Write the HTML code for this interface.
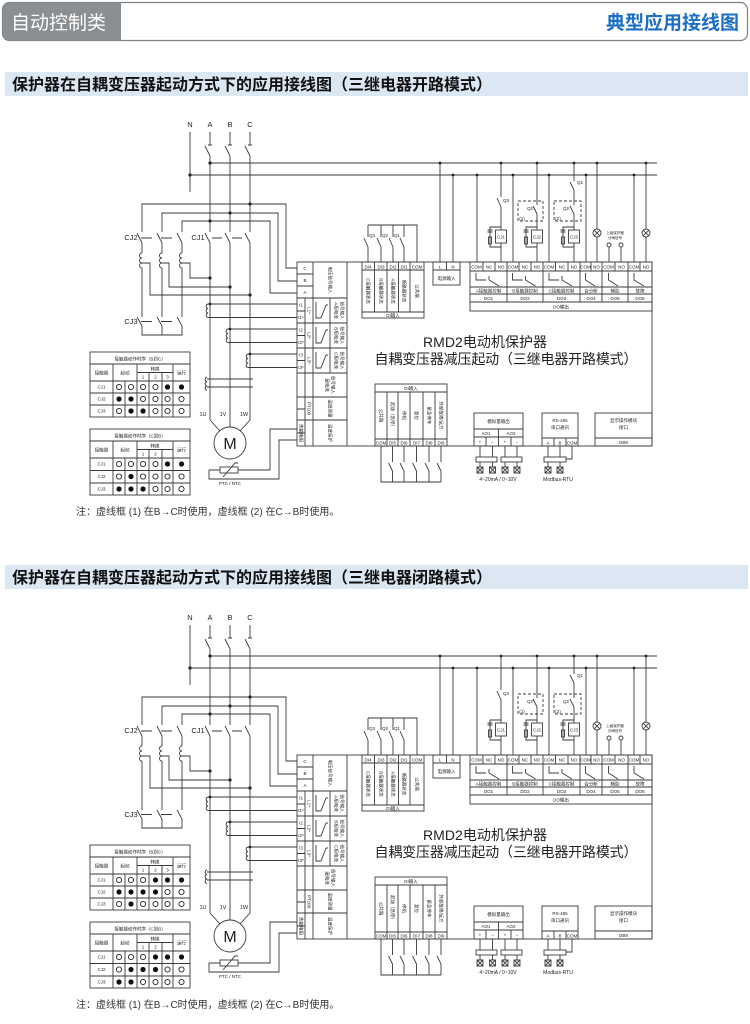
<!DOCTYPE html>
<html><head><meta charset="utf-8"><style>
html,body{margin:0;padding:0;background:#fff;}
svg{display:block;}
.t{font-family:"Liberation Sans","Noto Sans CJK SC",sans-serif;fill:#222;}
.s{font-size:4.5px;}
.m{text-anchor:middle;}
.l{stroke:#3a3a3a;stroke-width:0.9;fill:none;}
.d{stroke:#3a3a3a;stroke-width:0.9;fill:none;stroke-dasharray:3 2;}
.o{fill:#fff;stroke:#222;stroke-width:0.9;}
.f{fill:#111;}
.w{fill:#fff;stroke:#3a3a3a;stroke-width:0.9;}
</style></head><body>
<svg width="750" height="1024" viewBox="0 0 750 1024" xmlns="http://www.w3.org/2000/svg">
<!-- header -->
<rect x="2.5" y="2.5" width="745" height="38" rx="7" fill="#fff" stroke="#7d8083" stroke-width="1.2"/>
<path d="M2.5,9.5a7,7 0 0 1 7,-7H121V40.5H9.5a7,7 0 0 1 -7,-7Z" fill="#8c8f92"/>
<text x="11" y="29" class="t" style="font-size:19px;fill:#fff">自动控制类</text>
<text x="739" y="29" class="t" style="font-size:19px;font-weight:bold;fill:#1b6ec2;text-anchor:end">典型应用接线图</text>

<!-- section 1 title -->
<rect x="5" y="72" width="743" height="24" fill="#dce7f4"/>
<text x="12" y="90" class="t" style="font-size:16px;font-weight:bold;fill:#111">保护器在自耦变压器起动方式下的应用接线图（三继电器开路模式）</text>

<!-- ===== DIAGRAM 1 ===== -->
<g>
<g class="l">
<path d="M190,132V192M210,132V145M210,156V232M210,243V420M230,132V145M230,156V232M230,243V420M250,132V145M250,156V232M250,243V420"/>
<path d="M210,156L205,146M230,156L225,146M250,156L245,146M208,145H212M228,145H232M248,145H252"/>
<path d="M210,163H657M190,175H657"/>
<path d="M297,268H286V204H142V232M297,281H278V213H162V232M297,293H270V221H182V232"/>
<path d="M142,243V253M142,268V317M142,326V335H182V326M162,243V253M162,268V317M162,326V335M182,243V253M182,268V317"/>
<path d="M142,253a2.5,2.5 0 0 0 0,5a2.5,2.5 0 0 0 0,5a2.5,2.5 0 0 0 0,5M162,253a2.5,2.5 0 0 0 0,5a2.5,2.5 0 0 0 0,5a2.5,2.5 0 0 0 0,5M182,253a2.5,2.5 0 0 0 0,5a2.5,2.5 0 0 0 0,5a2.5,2.5 0 0 0 0,5"/>
<path d="M142,243L137,233M162,243L157,233M182,243L177,233M141,238H152M161,238H172"/>
<path d="M210,243L205,233M230,243L225,233M250,243L245,233M212,238H222M232,238H242"/>
<path d="M142,326L137,317M162,326L157,317M182,326L177,317M141,321.5H152M161,321.5H172"/>
<path d="M142,263H150V295H250M162,263H169V287H230M182,263H190V278H210"/>
<path d="M208,304a2.3,2.3 0 0 0 0,4.5a2.3,2.3 0 0 0 0,4.5a2.3,2.3 0 0 0 0,4.5M208,304H297M208,317.5H297"/>
<path d="M228,329a2.3,2.3 0 0 0 0,4.5a2.3,2.3 0 0 0 0,4.5a2.3,2.3 0 0 0 0,4.5M228,329H297M228,342.5H297"/>
<path d="M248,354a2.3,2.3 0 0 0 0,4.5a2.3,2.3 0 0 0 0,4.5a2.3,2.3 0 0 0 0,4.5M248,354H297M248,367.5H297"/>
<path d="M207,377a2.3,2.3 0 0 0 0,4.5a2.3,2.3 0 0 0 0,4.5a2.3,2.3 0 0 0 0,4.5M207,379H253M207,387H253"/>
<path d="M210,420L220,431M230,420V427M250,420L240,431"/>
<circle cx="230" cy="443" r="16"/>
<path d="M209,470H220M238,470H270V429H297M209,470V479H279V440H297"/>
<rect x="220" y="467" width="18" height="6"/>
<path d="M223,477L235,463H238"/>
<!-- main box -->
<rect x="297" y="262" width="355" height="184"/>
<path d="M313,262V446M347,262V446M297,274H313M297,286H313M297,298H347M305,298V446M297,311H305M297,335.5H305M297,360.5H305M297,323H347M297,348H347M297,373H347M330,298V373M297,397H347M297,420H347M297,409H305M297,433H305M313,397V446"/>
<path d="M316,302V318H321M321,318L326,305M326,305h2M316,327V343H321M321,343L326,330M326,330h2M316,352V368H321M321,368L326,355M326,355h2"/>
<!-- DI upper -->
<rect x="362" y="262" width="62" height="56"/>
<path d="M362,270H424M362,312H424M374.5,262V312M387,262V312M398.5,262V312M410,262V312"/>
<path d="M368,225H417V262M368,225V237M368,247V262M381,225V237M381,247V262M393,225V237M393,247V262M404,225V237M404,247V262"/>
<path d="M368,247L364,238M381,247L377,238M393,247L389,238M404,247L400,238"/>
<!-- power -->
<rect x="433" y="262" width="27" height="23"/>
<path d="M433,270H460M446.5,262V270M440,163V262M453,175V262"/>
<!-- DO block -->
<rect x="470" y="262" width="182" height="49"/>
<path d="M470,271H652M470,287H652M470,294H652M470,302H652M507,262V302M543,262V302M580,262V302M602,262V302M628,262V302"/>
<path d="M483,262V271M495,262V271M519,262V271M531,262V271M555.5,262V271M568,262V271M591,262V271M615,262V271M640,262V271"/>
<path d="M476,273V280H486M489,276V280M489,280L499,286M512.5,273V280H522.5M525.5,276V280M525.5,280L535.5,286M549,273V280H559M562,276V280M562,280L572,286M585.5,273V280L595,286M608.5,273V280L618,286M634,273V280L644,286"/>
<!-- DO wires -->
<path d="M477,175V262M501,163V197M501,207V230M501,243V262M501,207L497,198"/>
<rect x="495.5" y="230" width="11" height="13"/>
<path d="M501,227H490V247H501M487.5,230H492.5M487.5,232H492.5"/>
<rect x="488.5" y="237" width="3" height="7"/>
<path d="M513,175V262M537,163V205M537,214V230M537,243V262M537,214L533,206"/>
<rect x="531.5" y="230" width="11" height="13"/>
<path d="M537,227H526V247H537M523.5,230H528.5M523.5,232H528.5"/>
<rect x="524.5" y="237" width="3" height="7"/>
<path d="M549,175V262M574,163V181M574,190V205M574,214V230M574,243V262M574,190L570,182M574,214L570,206"/>
<rect x="568.5" y="230" width="11" height="13"/>
<path d="M574,227H563V247H574M560.5,230H565.5M560.5,232H565.5"/>
<rect x="561.5" y="237" width="3" height="7"/>
<path d="M586,175V262M597,163V229M597,237V262M609,247V262M621,247V262M634,175V262M646,163V229M646,237V262"/>
<circle cx="597" cy="233" r="4"/><path d="M594.2,230.2L599.8,235.8M599.8,230.2L594.2,235.8"/>
<circle cx="646" cy="233" r="4"/><path d="M643.2,230.2L648.8,235.8M648.8,230.2L643.2,235.8"/>
<circle cx="609" cy="245" r="2"/><circle cx="621" cy="245" r="2"/>
<!-- DI lower -->
<rect x="375" y="384" width="72" height="62"/>
<path d="M375,392H447M375,439H447M387,392V446M398,392V446M410,392V446M423,392V446M435,392V446"/>
<path d="M381,446V482H441M392.5,446V462M392.5,471V482M404,446V462M404,471V482M416.5,446V462M416.5,471V482M429,446V462M429,471V482M441,446V462M441,471V482"/>
<path d="M392.5,471L388.5,463M404,471L400,463M416.5,471L412.5,463M429,471L425,463M441,471L437,463"/>
<!-- analog out -->
<rect x="474" y="413" width="49" height="33"/>
<path d="M474,429H523M474,437H523M498.5,429V446M486,437V446M511,437V446"/>
<path d="M480,446V467M492.5,446V467M505,446V467M517,446V467"/>
<rect x="476" y="457" width="21" height="5" class="w"/><rect x="501" y="457" width="21" height="5" class="w"/>
<path d="M477,467h6v6h-6zM477,467l6,6M483,467l-6,6M489.5,467h6v6h-6zM489.5,467l6,6M495.5,467l-6,6M502,467h6v6h-6zM502,467l6,6M508,467l-6,6M514,467h6v6h-6zM514,467l6,6M520,467l-6,6"/>
<!-- RS485 -->
<rect x="542" y="413" width="36" height="33"/>
<path d="M542,438H578M554,438V446M566,438V446M548,446V467M560,446V467M572,446V459H566"/>
<rect x="544" y="457" width="22" height="5" class="w"/>
<path d="M545,467h6v6h-6zM545,467l6,6M551,467l-6,6M557,467h6v6h-6zM557,467l6,6M563,467l-6,6"/>
<!-- display -->
<rect x="595" y="413" width="57" height="33"/>
<path d="M595,438H652"/>
</g>
<rect x="518" y="201" width="25" height="20" class="d"/>
<rect x="554" y="201" width="27" height="20" class="d"/>
<g fill="#222">
<circle cx="190" cy="175" r="1.6"/><circle cx="210" cy="163" r="1.6"/>
<circle cx="250" cy="204" r="1.6"/><circle cx="230" cy="213" r="1.6"/><circle cx="210" cy="221" r="1.6"/>
<circle cx="210" cy="278" r="1.6"/><circle cx="230" cy="287" r="1.6"/><circle cx="250" cy="295" r="1.6"/>
<circle cx="210" cy="304" r="1.4"/><circle cx="230" cy="329" r="1.4"/><circle cx="250" cy="354" r="1.4"/>
<circle cx="440" cy="163" r="1.4"/><circle cx="501" cy="163" r="1.4"/><circle cx="537" cy="163" r="1.4"/><circle cx="574" cy="163" r="1.4"/><circle cx="597" cy="163" r="1.4"/><circle cx="646" cy="163" r="1.4"/>
<circle cx="453" cy="175" r="1.4"/><circle cx="477" cy="175" r="1.4"/><circle cx="513" cy="175" r="1.4"/><circle cx="549" cy="175" r="1.4"/><circle cx="586" cy="175" r="1.4"/><circle cx="634" cy="175" r="1.4"/>
</g>
<g class="t m" style="font-size:7.5px">
<text x="190" y="127">N</text><text x="210" y="127">A</text><text x="230" y="127">B</text><text x="250" y="127">C</text>
<text x="131" y="240">CJ2</text><text x="198" y="240">CJ1</text><text x="131" y="324">CJ3</text>
</g>
<g class="t m" style="font-size:5.5px">
<text x="203" y="416">1U</text><text x="223" y="416">1V</text><text x="244" y="416">1W</text>
</g>
<text x="230" y="449" class="t m" style="font-size:16px">M</text>
<text x="230" y="485" class="t m" style="font-size:4.5px">PTC / NTC</text>
<g class="t s m">
<text x="305" y="270">C</text><text x="305" y="282">B</text><text x="305" y="294">A</text>
<text transform="translate(330,280) rotate(90)" dy="1.5">电压信号输入</text>
<text x="301" y="306.5">I1</text><text x="301" y="319">I1*</text><text x="301" y="331.5">I2</text><text x="301" y="344">I2*</text><text x="301" y="356.5">I3</text><text x="301" y="369">I3*</text>
<text transform="translate(309,310.5) rotate(90)" dy="1.5">L1*</text><text transform="translate(309,335.5) rotate(90)" dy="1.5">L2*</text><text transform="translate(309,360.5) rotate(90)" dy="1.5">L3*</text>
<text transform="translate(336,310.5) rotate(90)" dy="1.5">A相电流</text><text transform="translate(342,310.5) rotate(90)" dy="1.5">信号输入</text>
<text transform="translate(336,335.5) rotate(90)" dy="1.5">B相电流</text><text transform="translate(342,335.5) rotate(90)" dy="1.5">信号输入</text>
<text transform="translate(336,360.5) rotate(90)" dy="1.5">C相电流</text><text transform="translate(342,360.5) rotate(90)" dy="1.5">信号输入</text>
<text transform="translate(327,385) rotate(90)" dy="1.5">漏电流</text><text transform="translate(333,385) rotate(90)" dy="1.5">信号输入</text>
<text transform="translate(309,408.5) rotate(90)" dy="1.5">PT100</text><text transform="translate(330,408.5) rotate(90)" dy="1.5">温度测量</text>
<text transform="translate(301,433) rotate(90)" dy="1.5">热敏电阻</text><text transform="translate(330,433) rotate(90)" dy="1.5">温度保护</text>
<text x="368" y="268.5">DI4</text><text x="381" y="268.5">DI3</text><text x="393" y="268.5">DI2</text><text x="404" y="268.5">DI1</text><text x="417" y="268.5">COM</text>
<text transform="translate(368,291) rotate(90)" dy="1.5">C接触器状态</text><text transform="translate(381,291) rotate(90)" dy="1.5">B接触器状态</text><text transform="translate(393,291) rotate(90)" dy="1.5">A接触器状态</text><text transform="translate(404,291) rotate(90)" dy="1.5">断路器状态</text><text transform="translate(417,291) rotate(90)" dy="1.5">公共端</text>
<text x="393" y="317">DI输入</text>
<text x="372" y="237">Q3</text><text x="385" y="237">Q2</text><text x="397" y="237">Q1</text>
<text x="440" y="268.5">L</text><text x="453" y="268.5">N</text><text x="446.5" y="280">电源输入</text>
<text x="476.5" y="268.5">COM</text><text x="489" y="268.5">NC</text><text x="501" y="268.5">NO</text>
<text x="513" y="268.5">COM</text><text x="525" y="268.5">NC</text><text x="537" y="268.5">NO</text>
<text x="549" y="268.5">COM</text><text x="562" y="268.5">NC</text><text x="574" y="268.5">NO</text>
<text x="585.5" y="268.5">COM</text><text x="596.5" y="268.5">NO</text>
<text x="608.5" y="268.5">COM</text><text x="621.5" y="268.5">NO</text>
<text x="634" y="268.5">COM</text><text x="646" y="268.5">NO</text>
<text x="488.5" y="292.5">A接触器控制</text><text x="525" y="292.5">B接触器控制</text><text x="561.5" y="292.5">C接触器控制</text><text x="591" y="292.5">合分断</text><text x="615" y="292.5">辅助</text><text x="640" y="292.5">故障</text>
<text x="488.5" y="300">DO1</text><text x="525" y="300">DO2</text><text x="561.5" y="300">DO3</text><text x="591" y="300">DO4</text><text x="615" y="300">DO5</text><text x="640" y="300">DO6</text>
<text x="561" y="308.5">DO输出</text>
<text x="501" y="238.5">CJ1</text><text x="537" y="238.5">CJ2</text><text x="574" y="238.5">CJ3</text>
<text x="506" y="202">Q3</text><text x="530" y="210">Q2</text><text x="580" y="184">Q1</text><text x="566" y="210">Q2</text>
<text x="522" y="220">(1)</text><text x="558" y="220">(2)</text>
<text x="615" y="234" style="font-size:3.5px">上级保护器</text><text x="615" y="239" style="font-size:3.5px">分闸信号</text>
<text x="411" y="390">DI输入</text>
<text transform="translate(381,415.5) rotate(90)" dy="1.5">公共端</text><text transform="translate(392.5,415.5) rotate(90)" dy="1.5">起动（急停）</text><text transform="translate(404,415.5) rotate(90)" dy="1.5">停机</text><text transform="translate(416.5,415.5) rotate(90)" dy="1.5">复位</text><text transform="translate(429,415.5) rotate(90)" dy="1.5">紧急停车</text><text transform="translate(441,415.5) rotate(90)" dy="1.5">外部故障/远方</text>
<text x="381" y="444.5">COM</text><text x="392.5" y="444.5">DI5</text><text x="404" y="444.5">DI6</text><text x="416.5" y="444.5">DI7</text><text x="429" y="444.5">DI8</text><text x="441" y="444.5">DI9</text>
<text x="498.5" y="423">模拟量输出</text><text x="486" y="435">AO1</text><text x="511" y="435">AO2</text>
<text x="480" y="443.5">+</text><text x="492.5" y="443.5">−</text><text x="505" y="443.5">+</text><text x="517" y="443.5">−</text>
<text x="498" y="481" style="font-size:5px">4~20mA / 0~10V</text>
<text x="560" y="422">RS-485</text><text x="560" y="429">串口通讯</text>
<text x="548" y="444.5">A</text><text x="560" y="444.5">B</text><text x="572" y="444.5">COM</text>
<text x="558" y="481" style="font-size:5px">Modbus-RTU</text>
<text x="623.5" y="422">显示操作模块</text><text x="623.5" y="429">接口</text><text x="623.5" y="444">DB9</text>
</g>
<text x="485" y="347" class="t m" style="font-size:14px" textLength="124">RMD2电动机保护器</text>
<text x="506" y="364" class="t m" style="font-size:14px" textLength="263">自耦变压器减压起动（三继电器开路模式）</text>
<!-- tables -->
<g class="l">
<rect x="90" y="352" width="100" height="65"/>
<path d="M90,364H190M90,381H190M90,393H190M90,405H190M137,372.5H173M113,364V417M137,364V417M173,364V417M125,381V417M149,372.5V417M162,372.5V417"/>
<rect x="90" y="429" width="100" height="66"/>
<path d="M90,441H190M90,458H190M90,470.5H190M90,483H190M137,449.5H173M113,441V495M137,441V495M173,441V495M125,458V495M149,449.5V495M162,449.5V495"/>
</g>
<g class="t s m">
<text x="140" y="360.5">接触器动作时序（B到C）</text>
<text x="101.5" y="374.5">接触器</text><text x="125" y="374.5">起动</text><text x="155" y="370.5">转换</text><text x="181.5" y="374.5">运行</text>
<text x="143" y="378.5">1</text><text x="155.5" y="378.5">2</text><text x="167.5" y="378.5">3</text>
<text x="101.5" y="388.5">CJ1</text><text x="101.5" y="400.5">CJ2</text><text x="101.5" y="412.5">CJ3</text>
<text x="140" y="437.5">接触器动作时序（C到B）</text>
<text x="101.5" y="451.5">接触器</text><text x="125" y="451.5">起动</text><text x="155" y="447.5">转换</text><text x="181.5" y="451.5">运行</text>
<text x="143" y="455.5">1</text><text x="155.5" y="455.5">2</text>
<text x="101.5" y="465.5">CJ1</text><text x="101.5" y="478">CJ2</text><text x="101.5" y="490.5">CJ3</text>
</g>
<g>
<circle cx="119" cy="387" r="2.6" class="o"/><circle cx="131" cy="387" r="2.6" class="o"/><circle cx="143" cy="387" r="2.6" class="o"/><circle cx="155.5" cy="387" r="2.6" class="o"/><circle cx="167.5" cy="387" r="2.6" class="f"/><circle cx="181.5" cy="387" r="2.6" class="f"/>
<circle cx="119" cy="399" r="2.6" class="f"/><circle cx="131" cy="399" r="2.6" class="f"/><circle cx="143" cy="399" r="2.6" class="o"/><circle cx="155.5" cy="399" r="2.6" class="o"/><circle cx="167.5" cy="399" r="2.6" class="o"/><circle cx="181.5" cy="399" r="2.6" class="o"/>
<circle cx="119" cy="411" r="2.6" class="o"/><circle cx="131" cy="411" r="2.6" class="f"/><circle cx="143" cy="411" r="2.6" class="f"/><circle cx="155.5" cy="411" r="2.6" class="o"/><circle cx="167.5" cy="411" r="2.6" class="o"/><circle cx="181.5" cy="411" r="2.6" class="o"/>
<circle cx="119" cy="464" r="2.6" class="o"/><circle cx="131" cy="464" r="2.6" class="o"/><circle cx="143" cy="464" r="2.6" class="o"/><circle cx="155.5" cy="464" r="2.6" class="o"/><circle cx="167.5" cy="464" r="2.6" class="f"/><circle cx="181.5" cy="464" r="2.6" class="f"/>
<circle cx="119" cy="476.5" r="2.6" class="o"/><circle cx="131" cy="476.5" r="2.6" class="f"/><circle cx="143" cy="476.5" r="2.6" class="o"/><circle cx="155.5" cy="476.5" r="2.6" class="o"/><circle cx="167.5" cy="476.5" r="2.6" class="o"/><circle cx="181.5" cy="476.5" r="2.6" class="o"/>
<circle cx="119" cy="489" r="2.6" class="f"/><circle cx="131" cy="489" r="2.6" class="f"/><circle cx="143" cy="489" r="2.6" class="f"/><circle cx="155.5" cy="489" r="2.6" class="o"/><circle cx="167.5" cy="489" r="2.6" class="o"/><circle cx="181.5" cy="489" r="2.6" class="o"/>
</g>
<text x="76" y="515" class="t" style="font-size:10px;fill:#333">注：虚线框 (1) 在B→C时使用，虚线框 (2) 在C→B时使用。</text>
</g>

<!-- section 2 title -->
<rect x="5" y="565" width="743" height="24" fill="#dce7f4"/>
<text x="12" y="583" class="t" style="font-size:16px;font-weight:bold;fill:#111">保护器在自耦变压器起动方式下的应用接线图（三继电器闭路模式）</text>

<!-- ===== DIAGRAM 2 ===== -->
<g transform="translate(0,493)">
<g class="l">
<path d="M190,132V192M210,132V145M210,156V232M210,243V420M230,132V145M230,156V232M230,243V420M250,132V145M250,156V232M250,243V420"/>
<path d="M210,156L205,146M230,156L225,146M250,156L245,146M208,145H212M228,145H232M248,145H252"/>
<path d="M210,163H657M190,175H657"/>
<path d="M297,268H286V204H142V232M297,281H278V213H162V232M297,293H270V221H182V232"/>
<path d="M142,243V253M142,268V317M142,326V335H182V326M162,243V253M162,268V317M162,326V335M182,243V253M182,268V317"/>
<path d="M142,253a2.5,2.5 0 0 0 0,5a2.5,2.5 0 0 0 0,5a2.5,2.5 0 0 0 0,5M162,253a2.5,2.5 0 0 0 0,5a2.5,2.5 0 0 0 0,5a2.5,2.5 0 0 0 0,5M182,253a2.5,2.5 0 0 0 0,5a2.5,2.5 0 0 0 0,5a2.5,2.5 0 0 0 0,5"/>
<path d="M142,243L137,233M162,243L157,233M182,243L177,233M141,238H152M161,238H172"/>
<path d="M210,243L205,233M230,243L225,233M250,243L245,233M212,238H222M232,238H242"/>
<path d="M142,326L137,317M162,326L157,317M182,326L177,317M141,321.5H152M161,321.5H172"/>
<path d="M142,263H150V295H250M162,263H169V287H230M182,263H190V278H210"/>
<path d="M208,304a2.3,2.3 0 0 0 0,4.5a2.3,2.3 0 0 0 0,4.5a2.3,2.3 0 0 0 0,4.5M208,304H297M208,317.5H297"/>
<path d="M228,329a2.3,2.3 0 0 0 0,4.5a2.3,2.3 0 0 0 0,4.5a2.3,2.3 0 0 0 0,4.5M228,329H297M228,342.5H297"/>
<path d="M248,354a2.3,2.3 0 0 0 0,4.5a2.3,2.3 0 0 0 0,4.5a2.3,2.3 0 0 0 0,4.5M248,354H297M248,367.5H297"/>
<path d="M207,377a2.3,2.3 0 0 0 0,4.5a2.3,2.3 0 0 0 0,4.5a2.3,2.3 0 0 0 0,4.5M207,379H253M207,387H253"/>
<path d="M210,420L220,431M230,420V427M250,420L240,431"/>
<circle cx="230" cy="443" r="16"/>
<path d="M209,470H220M238,470H270V429H297M209,470V479H279V440H297"/>
<rect x="220" y="467" width="18" height="6"/>
<path d="M223,477L235,463H238"/>
<rect x="297" y="262" width="355" height="184"/>
<path d="M313,262V446M347,262V446M297,274H313M297,286H313M297,298H347M305,298V446M297,311H305M297,335.5H305M297,360.5H305M297,323H347M297,348H347M297,373H347M330,298V373M297,397H347M297,420H347M297,409H305M297,433H305M313,397V446"/>
<path d="M316,302V318H321M321,318L326,305M326,305h2M316,327V343H321M321,343L326,330M326,330h2M316,352V368H321M321,368L326,355M326,355h2"/>
<rect x="362" y="262" width="62" height="56"/>
<path d="M362,270H424M362,312H424M374.5,262V312M387,262V312M398.5,262V312M410,262V312"/>
<path d="M368,225H417V262M368,225V237M368,247V262M381,225V237M381,247V262M393,225V237M393,247V262M404,225V237M404,247V262"/>
<path d="M368,247L364,238M381,247L377,238M393,247L389,238M404,247L400,238"/>
<rect x="433" y="262" width="27" height="23"/>
<path d="M433,270H460M446.5,262V270M440,163V262M453,175V262"/>
<rect x="470" y="262" width="182" height="49"/>
<path d="M470,271H652M470,287H652M470,294H652M470,302H652M507,262V302M543,262V302M580,262V302M602,262V302M628,262V302"/>
<path d="M483,262V271M495,262V271M519,262V271M531,262V271M555.5,262V271M568,262V271M591,262V271M615,262V271M640,262V271"/>
<path d="M476,273V280H486M489,276V280M489,280L499,286M512.5,273V280H522.5M525.5,276V280M525.5,280L535.5,286M549,273V280H559M562,276V280M562,280L572,286M585.5,273V280L595,286M608.5,273V280L618,286M634,273V280L644,286"/>
<path d="M477,175V262M501,163V197M501,207V230M501,243V262M501,207L497,198"/>
<rect x="495.5" y="230" width="11" height="13"/>
<path d="M501,227H490V247H501M487.5,230H492.5M487.5,232H492.5"/>
<rect x="488.5" y="237" width="3" height="7"/>
<path d="M513,175V262M537,163V205M537,214V230M537,243V262M537,214L533,206"/>
<rect x="531.5" y="230" width="11" height="13"/>
<path d="M537,227H526V247H537M523.5,230H528.5M523.5,232H528.5"/>
<rect x="524.5" y="237" width="3" height="7"/>
<path d="M549,175V262M574,163V181M574,190V205M574,214V230M574,243V262M574,190L570,182M574,214L570,206"/>
<rect x="568.5" y="230" width="11" height="13"/>
<path d="M574,227H563V247H574M560.5,230H565.5M560.5,232H565.5"/>
<rect x="561.5" y="237" width="3" height="7"/>
<path d="M586,175V262M597,163V229M597,237V262M609,247V262M621,247V262M634,175V262M646,163V229M646,237V262"/>
<circle cx="597" cy="233" r="4"/><path d="M594.2,230.2L599.8,235.8M599.8,230.2L594.2,235.8"/>
<circle cx="646" cy="233" r="4"/><path d="M643.2,230.2L648.8,235.8M648.8,230.2L643.2,235.8"/>
<circle cx="609" cy="245" r="2"/><circle cx="621" cy="245" r="2"/>
<rect x="375" y="384" width="72" height="62"/>
<path d="M375,392H447M375,439H447M387,392V446M398,392V446M410,392V446M423,392V446M435,392V446"/>
<path d="M381,446V482H441M392.5,446V462M392.5,471V482M404,446V462M404,471V482M416.5,446V462M416.5,471V482M429,446V462M429,471V482M441,446V462M441,471V482"/>
<path d="M392.5,471L388.5,463M404,471L400,463M416.5,471L412.5,463M429,471L425,463M441,471L437,463"/>
<rect x="474" y="413" width="49" height="33"/>
<path d="M474,429H523M474,437H523M498.5,429V446M486,437V446M511,437V446"/>
<path d="M480,446V467M492.5,446V467M505,446V467M517,446V467"/>
<rect x="476" y="457" width="21" height="5" class="w"/><rect x="501" y="457" width="21" height="5" class="w"/>
<path d="M477,467h6v6h-6zM477,467l6,6M483,467l-6,6M489.5,467h6v6h-6zM489.5,467l6,6M495.5,467l-6,6M502,467h6v6h-6zM502,467l6,6M508,467l-6,6M514,467h6v6h-6zM514,467l6,6M520,467l-6,6"/>
<rect x="542" y="413" width="36" height="33"/>
<path d="M542,438H578M554,438V446M566,438V446M548,446V467M560,446V467M572,446V459H566"/>
<rect x="544" y="457" width="22" height="5" class="w"/>
<path d="M545,467h6v6h-6zM545,467l6,6M551,467l-6,6M557,467h6v6h-6zM557,467l6,6M563,467l-6,6"/>
<rect x="595" y="413" width="57" height="33"/>
<path d="M595,438H652"/>
</g>
<rect x="518" y="201" width="25" height="20" class="d"/>
<rect x="554" y="201" width="27" height="20" class="d"/>
<g fill="#222">
<circle cx="190" cy="175" r="1.6"/><circle cx="210" cy="163" r="1.6"/>
<circle cx="250" cy="204" r="1.6"/><circle cx="230" cy="213" r="1.6"/><circle cx="210" cy="221" r="1.6"/>
<circle cx="210" cy="278" r="1.6"/><circle cx="230" cy="287" r="1.6"/><circle cx="250" cy="295" r="1.6"/>
<circle cx="210" cy="304" r="1.4"/><circle cx="230" cy="329" r="1.4"/><circle cx="250" cy="354" r="1.4"/>
<circle cx="440" cy="163" r="1.4"/><circle cx="501" cy="163" r="1.4"/><circle cx="537" cy="163" r="1.4"/><circle cx="574" cy="163" r="1.4"/><circle cx="597" cy="163" r="1.4"/><circle cx="646" cy="163" r="1.4"/>
<circle cx="453" cy="175" r="1.4"/><circle cx="477" cy="175" r="1.4"/><circle cx="513" cy="175" r="1.4"/><circle cx="549" cy="175" r="1.4"/><circle cx="586" cy="175" r="1.4"/><circle cx="634" cy="175" r="1.4"/>
</g>
<g class="t m" style="font-size:7.5px">
<text x="190" y="127">N</text><text x="210" y="127">A</text><text x="230" y="127">B</text><text x="250" y="127">C</text>
<text x="131" y="240">CJ2</text><text x="198" y="240">CJ1</text><text x="131" y="324">CJ3</text>
</g>
<g class="t m" style="font-size:5.5px">
<text x="203" y="416">1U</text><text x="223" y="416">1V</text><text x="244" y="416">1W</text>
</g>
<text x="230" y="449" class="t m" style="font-size:16px">M</text>
<text x="230" y="485" class="t m" style="font-size:4.5px">PTC / NTC</text>
<g class="t s m">
<text x="305" y="270">C</text><text x="305" y="282">B</text><text x="305" y="294">A</text>
<text transform="translate(330,280) rotate(90)" dy="1.5">电压信号输入</text>
<text x="301" y="306.5">I1</text><text x="301" y="319">I1*</text><text x="301" y="331.5">I2</text><text x="301" y="344">I2*</text><text x="301" y="356.5">I3</text><text x="301" y="369">I3*</text>
<text transform="translate(309,310.5) rotate(90)" dy="1.5">L1*</text><text transform="translate(309,335.5) rotate(90)" dy="1.5">L2*</text><text transform="translate(309,360.5) rotate(90)" dy="1.5">L3*</text>
<text transform="translate(336,310.5) rotate(90)" dy="1.5">A相电流</text><text transform="translate(342,310.5) rotate(90)" dy="1.5">信号输入</text>
<text transform="translate(336,335.5) rotate(90)" dy="1.5">B相电流</text><text transform="translate(342,335.5) rotate(90)" dy="1.5">信号输入</text>
<text transform="translate(336,360.5) rotate(90)" dy="1.5">C相电流</text><text transform="translate(342,360.5) rotate(90)" dy="1.5">信号输入</text>
<text transform="translate(327,385) rotate(90)" dy="1.5">漏电流</text><text transform="translate(333,385) rotate(90)" dy="1.5">信号输入</text>
<text transform="translate(309,408.5) rotate(90)" dy="1.5">PT100</text><text transform="translate(330,408.5) rotate(90)" dy="1.5">温度测量</text>
<text transform="translate(301,433) rotate(90)" dy="1.5">热敏电阻</text><text transform="translate(330,433) rotate(90)" dy="1.5">温度保护</text>
<text x="368" y="268.5">DI4</text><text x="381" y="268.5">DI3</text><text x="393" y="268.5">DI2</text><text x="404" y="268.5">DI1</text><text x="417" y="268.5">COM</text>
<text transform="translate(368,291) rotate(90)" dy="1.5">C接触器状态</text><text transform="translate(381,291) rotate(90)" dy="1.5">B接触器状态</text><text transform="translate(393,291) rotate(90)" dy="1.5">A接触器状态</text><text transform="translate(404,291) rotate(90)" dy="1.5">断路器状态</text><text transform="translate(417,291) rotate(90)" dy="1.5">公共端</text>
<text x="393" y="317">DI输入</text>
<text x="372" y="237">Q3</text><text x="385" y="237">Q2</text><text x="397" y="237">Q1</text>
<text x="440" y="268.5">L</text><text x="453" y="268.5">N</text><text x="446.5" y="280">电源输入</text>
<text x="476.5" y="268.5">COM</text><text x="489" y="268.5">NC</text><text x="501" y="268.5">NO</text>
<text x="513" y="268.5">COM</text><text x="525" y="268.5">NC</text><text x="537" y="268.5">NO</text>
<text x="549" y="268.5">COM</text><text x="562" y="268.5">NC</text><text x="574" y="268.5">NO</text>
<text x="585.5" y="268.5">COM</text><text x="596.5" y="268.5">NO</text>
<text x="608.5" y="268.5">COM</text><text x="621.5" y="268.5">NO</text>
<text x="634" y="268.5">COM</text><text x="646" y="268.5">NO</text>
<text x="488.5" y="292.5">A接触器控制</text><text x="525" y="292.5">B接触器控制</text><text x="561.5" y="292.5">C接触器控制</text><text x="591" y="292.5">合分断</text><text x="615" y="292.5">辅助</text><text x="640" y="292.5">故障</text>
<text x="488.5" y="300">DO1</text><text x="525" y="300">DO2</text><text x="561.5" y="300">DO3</text><text x="591" y="300">DO4</text><text x="615" y="300">DO5</text><text x="640" y="300">DO6</text>
<text x="561" y="308.5">DO输出</text>
<text x="501" y="238.5">CJ1</text><text x="537" y="238.5">CJ2</text><text x="574" y="238.5">CJ3</text>
<text x="506" y="202">Q3</text><text x="530" y="210">Q2</text><text x="580" y="184">Q1</text><text x="566" y="210">Q2</text>
<text x="522" y="220">(1)</text><text x="558" y="220">(2)</text>
<text x="615" y="234" style="font-size:3.5px">上级保护器</text><text x="615" y="239" style="font-size:3.5px">分闸信号</text>
<text x="411" y="390">DI输入</text>
<text transform="translate(381,415.5) rotate(90)" dy="1.5">公共端</text><text transform="translate(392.5,415.5) rotate(90)" dy="1.5">起动（急停）</text><text transform="translate(404,415.5) rotate(90)" dy="1.5">停机</text><text transform="translate(416.5,415.5) rotate(90)" dy="1.5">复位</text><text transform="translate(429,415.5) rotate(90)" dy="1.5">紧急停车</text><text transform="translate(441,415.5) rotate(90)" dy="1.5">外部故障/远方</text>
<text x="381" y="444.5">COM</text><text x="392.5" y="444.5">DI5</text><text x="404" y="444.5">DI6</text><text x="416.5" y="444.5">DI7</text><text x="429" y="444.5">DI8</text><text x="441" y="444.5">DI9</text>
<text x="498.5" y="423">模拟量输出</text><text x="486" y="435">AO1</text><text x="511" y="435">AO2</text>
<text x="480" y="443.5">+</text><text x="492.5" y="443.5">−</text><text x="505" y="443.5">+</text><text x="517" y="443.5">−</text>
<text x="498" y="481" style="font-size:5px">4~20mA / 0~10V</text>
<text x="560" y="422">RS-485</text><text x="560" y="429">串口通讯</text>
<text x="548" y="444.5">A</text><text x="560" y="444.5">B</text><text x="572" y="444.5">COM</text>
<text x="558" y="481" style="font-size:5px">Modbus-RTU</text>
<text x="623.5" y="422">显示操作模块</text><text x="623.5" y="429">接口</text><text x="623.5" y="444">DB9</text>
</g>
<text x="485" y="347" class="t m" style="font-size:14px" textLength="124">RMD2电动机保护器</text>
<text x="506" y="364" class="t m" style="font-size:14px" textLength="263">自耦变压器减压起动（三继电器开路模式）</text>
<g class="l">
<rect x="90" y="352" width="100" height="65"/>
<path d="M90,364H190M90,381H190M90,393H190M90,405H190M137,372.5H173M113,364V417M137,364V417M173,364V417M125,381V417M149,372.5V417M162,372.5V417"/>
<rect x="90" y="429" width="100" height="66"/>
<path d="M90,441H190M90,458H190M90,470.5H190M90,483H190M137,449.5H173M113,441V495M137,441V495M173,441V495M125,458V495M149,449.5V495M162,449.5V495"/>
</g>
<g class="t s m">
<text x="140" y="360.5">接触器动作时序（B到C）</text>
<text x="101.5" y="374.5">接触器</text><text x="125" y="374.5">起动</text><text x="155" y="370.5">转换</text><text x="181.5" y="374.5">运行</text>
<text x="143" y="378.5">1</text><text x="155.5" y="378.5">2</text><text x="167.5" y="378.5">3</text>
<text x="101.5" y="388.5">CJ1</text><text x="101.5" y="400.5">CJ2</text><text x="101.5" y="412.5">CJ3</text>
<text x="140" y="437.5">接触器动作时序（C到B）</text>
<text x="101.5" y="451.5">接触器</text><text x="125" y="451.5">起动</text><text x="155" y="447.5">转换</text><text x="181.5" y="451.5">运行</text>
<text x="143" y="455.5">1</text><text x="155.5" y="455.5">2</text>
<text x="101.5" y="465.5">CJ1</text><text x="101.5" y="478">CJ2</text><text x="101.5" y="490.5">CJ3</text>
</g>
<g>
<circle cx="119" cy="387" r="2.6" class="o"/><circle cx="131" cy="387" r="2.6" class="o"/><circle cx="143" cy="387" r="2.6" class="o"/><circle cx="155.5" cy="387" r="2.6" class="f"/><circle cx="167.5" cy="387" r="2.6" class="f"/><circle cx="181.5" cy="387" r="2.6" class="f"/>
<circle cx="119" cy="399" r="2.6" class="f"/><circle cx="131" cy="399" r="2.6" class="f"/><circle cx="143" cy="399" r="2.6" class="f"/><circle cx="155.5" cy="399" r="2.6" class="f"/><circle cx="167.5" cy="399" r="2.6" class="o"/><circle cx="181.5" cy="399" r="2.6" class="o"/>
<circle cx="119" cy="411" r="2.6" class="o"/><circle cx="131" cy="411" r="2.6" class="f"/><circle cx="143" cy="411" r="2.6" class="o"/><circle cx="155.5" cy="411" r="2.6" class="o"/><circle cx="167.5" cy="411" r="2.6" class="o"/><circle cx="181.5" cy="411" r="2.6" class="o"/>
<circle cx="119" cy="464" r="2.6" class="o"/><circle cx="131" cy="464" r="2.6" class="o"/><circle cx="143" cy="464" r="2.6" class="o"/><circle cx="155.5" cy="464" r="2.6" class="f"/><circle cx="167.5" cy="464" r="2.6" class="f"/><circle cx="181.5" cy="464" r="2.6" class="f"/>
<circle cx="119" cy="476.5" r="2.6" class="o"/><circle cx="131" cy="476.5" r="2.6" class="f"/><circle cx="143" cy="476.5" r="2.6" class="f"/><circle cx="155.5" cy="476.5" r="2.6" class="f"/><circle cx="167.5" cy="476.5" r="2.6" class="o"/><circle cx="181.5" cy="476.5" r="2.6" class="o"/>
<circle cx="119" cy="489" r="2.6" class="f"/><circle cx="131" cy="489" r="2.6" class="f"/><circle cx="143" cy="489" r="2.6" class="o"/><circle cx="155.5" cy="489" r="2.6" class="o"/><circle cx="167.5" cy="489" r="2.6" class="o"/><circle cx="181.5" cy="489" r="2.6" class="o"/>
</g>
<text x="76" y="515" class="t" style="font-size:10px;fill:#333">注：虚线框 (1) 在B→C时使用，虚线框 (2) 在C→B时使用。</text>
</g>
</svg>
</body></html>
